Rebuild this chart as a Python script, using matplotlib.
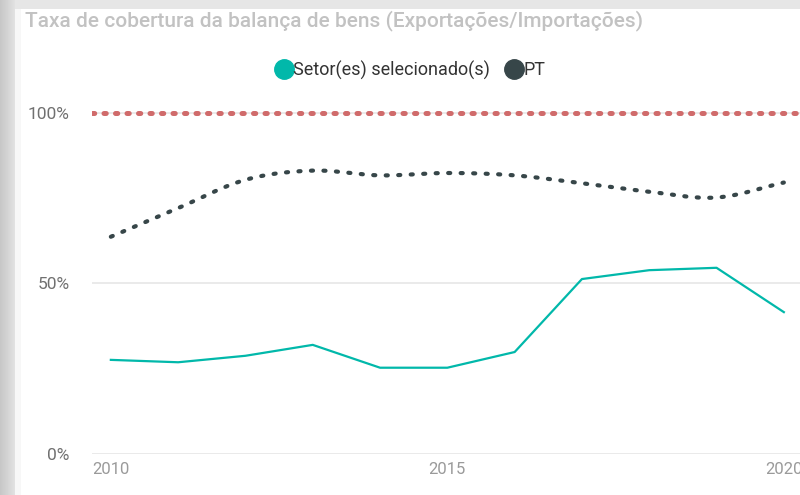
import numpy as np
import matplotlib.pyplot as plt
from matplotlib.lines import Line2D
from matplotlib.patches import Rectangle

years = [2010, 2011, 2012, 2013, 2014, 2015, 2016, 2017, 2018, 2019, 2020]
setor = [27.6, 26.9, 28.8, 32.0, 25.3, 25.3, 29.9, 51.3, 53.9, 54.6, 41.6]
pt = [63.7, 72.1, 80.4, 83.1, 81.7, 82.4, 81.7, 79.4, 76.9, 75.2, 79.6]
reference = 100
yticks = [0, 50, 100]
ytick_labels = ['0%', '50%', '100%']
xticks = [2010, 2015, 2020]

title = 'Taxa de cobertura da balança de bens (Exportações/Importações)'
legend_labels = ['Setor(es) selecionado(s)', 'PT']

teal = '#01b8aa'
dark = '#374649'
red = '#d06b6b'

plt.rcParams['font.family'] = ['Roboto', 'DejaVu Sans']


def smooth(x, y, n=20):
    # catmull-rom path through the points, like the smoothed line in the source
    x = np.asarray(x, float)
    y = np.asarray(y, float)
    px = np.concatenate([[2 * x[0] - x[1]], x, [2 * x[-1] - x[-2]]])
    py = np.concatenate([[2 * y[0] - y[1]], y, [2 * y[-1] - y[-2]]])
    xs, ys = [], []
    t = np.linspace(0, 1, n, endpoint=False)
    for i in range(1, len(px) - 2):
        for p, out in ((px, xs), (py, ys)):
            p0, p1, p2, p3 = p[i - 1], p[i], p[i + 1], p[i + 2]
            out.extend(0.5 * ((2 * p1) + (-p0 + p2) * t
                              + (2 * p0 - 5 * p1 + 4 * p2 - p3) * t ** 2
                              + (-p0 + 3 * p1 - 3 * p2 + p3) * t ** 3))
    xs.append(x[-1])
    ys.append(y[-1])
    return xs, ys


fig = plt.figure(figsize=(8, 4.95), dpi=100)

# background with shadow around the card
bg = fig.add_axes([0, 0, 1, 1])
bg.set_xlim(0, 800)
bg.set_ylim(495, 0)
bg.axis('off')
grad = np.linspace(0.78, 0.88, 15).reshape(1, -1)
bg.imshow(np.repeat(grad, 2, axis=0), cmap='gray', vmin=0, vmax=1,
          extent=[0, 15, 495, 0], aspect='auto')
bg.add_patch(Rectangle((15, 0), 785, 9, color='#e6e6e6', lw=0))
bg.add_patch(Rectangle((15, 9), 785, 486, color='white', lw=0))
bg.add_patch(Rectangle((15, 9), 6, 486, color='#f7f7f7', lw=0))

fig.text(25 / 800, 1 - 21 / 495, title, fontsize=15, color='#c2c2c2',
         ha='left', va='center', fontweight='medium')

ax = fig.add_axes([92 / 800, 1 - 454 / 495, 708 / 800, 354 / 495])
ax.set_facecolor('none')
ax.set_xlim(2009.72, 2020.24)
ax.set_ylim(0, 103.8)

for v in yticks:
    ax.axhline(v, color='#e8e8e8', lw=1.3, zorder=1)

ax.axhline(reference, color=red, lw=3.6, linestyle=(0, (0.45, 1.85)),
           dash_capstyle='round', zorder=2)
sx, sy = smooth(years, pt)
ax.plot(sx, sy, color=dark, lw=3.0, linestyle=(0, (0.5, 2.5)),
        dash_capstyle='round', zorder=3)
ax.plot(years, setor, color=teal, lw=1.6, zorder=4)

ax.set_yticks(yticks)
ax.set_yticklabels(ytick_labels)
ax.set_xticks(xticks)
ax.set_xticklabels([str(v) for v in xticks])
ax.tick_params(axis='y', length=0, pad=16, labelsize=12.5, labelcolor='#707070')
ax.tick_params(axis='x', length=0, pad=6, labelsize=12, labelcolor='#9a9a9a')
for s in ax.spines.values():
    s.set_visible(False)

handles = [Line2D([], [], marker='o', ls='', color=teal, markersize=14),
           Line2D([], [], marker='o', ls='', color=dark, markersize=14)]
fig.legend(handles, legend_labels, loc='center', bbox_to_anchor=(0.513, 1 - 70 / 495),
           ncol=2, frameon=False, fontsize=13, handletextpad=0.05,
           columnspacing=0.9, handlelength=0.9, labelcolor='#333333')

fig.savefig('out.png', dpi=100)
